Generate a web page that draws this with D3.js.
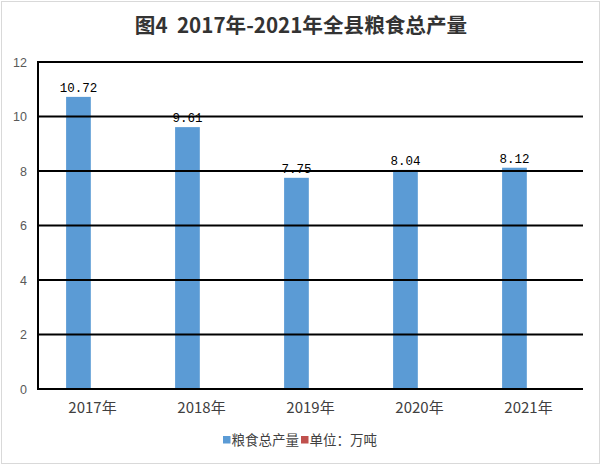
<!DOCTYPE html>
<html><head><meta charset="utf-8">
<script src="https://cdn.jsdelivr.net/npm/d3@7"></script>
<style>html,body{margin:0;padding:0;background:#fff;}svg{display:block;}</style>
</head><body>
<svg id="c" width="602" height="466"></svg>
<script>
const title = "图4  2017年-2021年全县粮食总产量";
const categories = ["2017年","2018年","2019年","2020年","2021年"];
const seriesNames = ["粮食总产量","单位：万吨"];
const grainValues = [10.72, 9.61, 7.75, 8.04, 8.12];
const unitValues = [null, null, null, null, null];
const yTicks = [0, 2, 4, 6, 8, 10, 12];
const colors = ["#5B9BD5", "#C0504D"];

const svg = d3.select("#c");
svg.append("rect").attr("x",1.5).attr("y",1.5).attr("width",598).attr("height",462)
  .attr("fill","#fff").attr("stroke","#d9d9d9").attr("stroke-width",1);

svg.append("text").attr("x",301).attr("y",33).attr("text-anchor","middle")
  .style("white-space","pre")
  .attr("font-family","'Noto Sans CJK SC', sans-serif").attr("font-weight","bold")
  .attr("font-size",20.6).attr("fill","#333").text(title);

const L = 38, R = 583, T = 62, B = 389;
const x0 = d3.scaleBand().domain(categories).range([L, R]).padding(0);
const bw = x0.bandwidth();
const x1 = d3.scaleBand().domain(seriesNames).range([bw/2 - 26.4, bw/2 + 26.4]).paddingInner(0.12).paddingOuter(0);
const y = d3.scaleLinear().domain([0, 12]).range([B, T]);

const data = categories.map((c,i)=>({c, vals:[grainValues[i], unitValues[i]]}));

// bars
const g = svg.append("g");
data.forEach(d=>{
  d.vals.forEach((v,j)=>{
    if(v==null) return;
    g.append("rect").attr("x", x0(d.c)+x1(seriesNames[j])).attr("y", y(v))
      .attr("width", x1.bandwidth()).attr("height", y(0)-y(v)).attr("fill", colors[j]);
  });
});

// gridlines (over bars)
svg.append("g").selectAll("line").data(yTicks).join("line")
  .attr("x1", L).attr("x2", R).attr("y1", d=>y(d)).attr("y2", d=>y(d))
  .attr("stroke","#000").attr("stroke-width",2);
svg.append("line").attr("x1",L).attr("x2",L).attr("y1",T-1).attr("y2",B+1)
  .attr("stroke","#000").attr("stroke-width",2);

// y tick labels
svg.append("g").selectAll("text").data(yTicks).join("text")
  .attr("x", 27).attr("y", d=>y(d)+4.5).attr("text-anchor","end")
  .attr("font-family","'Liberation Sans', sans-serif").attr("font-size",12.5)
  .attr("fill","#595959").text(d=>d);

// data labels
data.forEach(d=>{
  const v = d.vals[0];
  svg.append("text").attr("x", x0(d.c)+x1(seriesNames[0])+x1.bandwidth()/2).attr("y", y(v)-5)
    .attr("text-anchor","middle").attr("font-family","'Liberation Mono', monospace")
    .attr("font-size",12.5).attr("fill","#000").text(v.toFixed(2));
});

// x labels
svg.append("g").selectAll("text").data(categories).join("text")
  .attr("x", d=>x0(d)+bw/2).attr("y", 413).attr("text-anchor","middle")
  .attr("font-family","'Noto Sans CJK SC', sans-serif").attr("font-size",15)
  .attr("fill","#404040").text(d=>d);

// legend
const lg = svg.append("g");
let lx = 223;
seriesNames.forEach((n,j)=>{
  lg.append("rect").attr("x",lx).attr("y",436).attr("width",7.5).attr("height",7.5).attr("fill",colors[j]);
  const t = lg.append("text").attr("x",lx+8.5).attr("y",445).attr("font-family","'Noto Sans CJK SC', sans-serif")
    .attr("font-size",13.5).attr("fill","#404040").text(n);
  lx += 8.5 + t.node().getComputedTextLength() + 2;
});
</script>
</body></html>
